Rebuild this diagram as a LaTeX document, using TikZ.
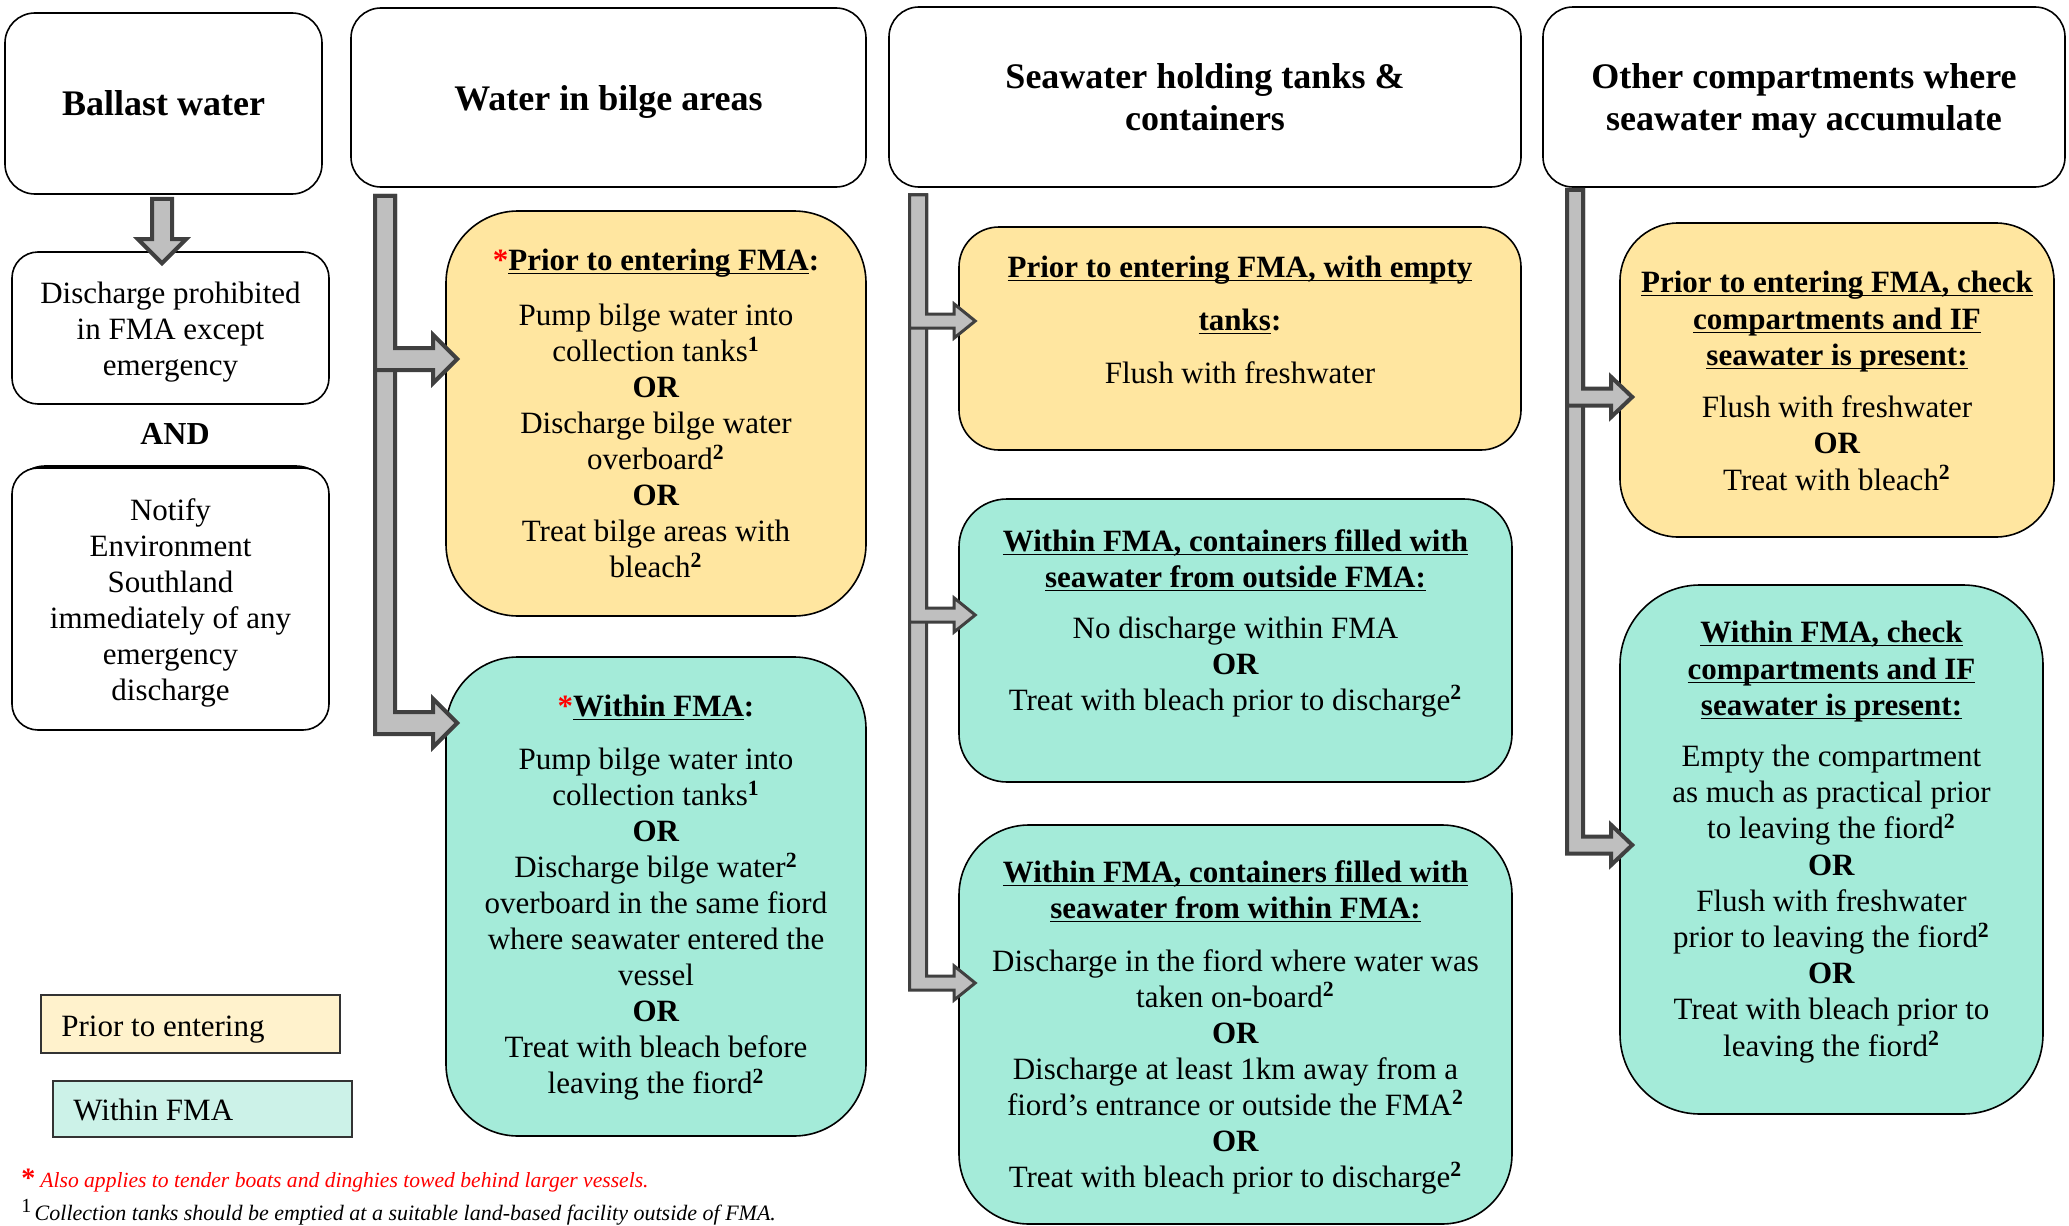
\documentclass[tikz,border=0pt]{standalone}
\usepackage{fontspec}
\setmainfont{Liberation Serif}
\usetikzlibrary{calc,fit}
\definecolor{ylw}{RGB}{255,230,160}
\definecolor{grn}{RGB}{164,235,217}
\definecolor{ylwL}{RGB}{255,242,204}
\definecolor{grnL}{RGB}{204,242,232}
\definecolor{arrfill}{RGB}{191,191,191}
\definecolor{arrdraw}{RGB}{64,64,64}
\newcommand\ulx[1]{\underline{\smash{#1}}\vphantom{#1}}
\newcommand\fnm[1]{\textsuperscript{\textbf{#1}}}
\newcommand\Larrow[7]{\filldraw[#7] let \p1=(#1), \p2=(#2) in
  (\x1-#3,\y1) -- (\x1+#3,\y1) -- (\x1+#3,\y2+#4) -- (\x2-#6,\y2+#4) -- (\x2-#6,\y2+#5) -- (\x2,\y2) -- (\x2-#6,\y2-#5) -- (\x2-#6,\y2-#4) -- (\x1-#3,\y2-#4) -- cycle;}
\newcommand\Darrow[6]{\filldraw[#6] let \p1=(#1), \p2=(#2) in
  (\x1-#3,\y1) -- (\x1+#3,\y1) -- (\x1+#3,\y2+#5) -- (\x1+#4,\y2+#5) -- (\x1,\y2) -- (\x1-#4,\y2+#5) -- (\x1-#3,\y2+#5) -- cycle;}
\tikzset{
  hdr/.style={draw=black, line width=0.8pt, rounded corners=15pt, fill=white, inner sep=0pt},
  hdrtxt/.style={inner sep=0pt, align=center, font=\fontsize{18}{21}\selectfont\bfseries},
  plainbox/.style={draw=black, line width=0.8pt, rounded corners=13pt, fill=white, inner sep=0pt},
  plaintxt/.style={inner sep=0pt, align=center, font=\fontsize{15.5}{18}\selectfont},
  ybox/.style={draw=black, line width=0.8pt, fill=ylw, inner sep=0pt},
  gbox/.style={draw=black, line width=0.8pt, fill=grn, inner sep=0pt},
  legbox/.style={draw=black!80, line width=0.6pt, inner sep=0pt},
  bodytxt/.style={inner sep=0pt, align=center, font=\fontsize{15.5}{18}\selectfont, anchor=north},
  legtxt/.style={inner sep=0pt, font=\fontsize{15.5}{18}\selectfont, anchor=base west},
  bigarrow/.style={fill=arrfill, draw=arrdraw, line width=2pt, line join=miter},
  thinarrow/.style={fill=arrfill, draw=arrdraw, line width=1.5pt, line join=miter},
}
\begin{document}
\begin{tikzpicture}[x=0.5pt, y=-0.5pt]
\fill[white] (0,0) rectangle (2069,1226);
\useasboundingbox (0,0) rectangle (2069,1226);

% headers
\node[hdr, fit={(5,13) (322,194)}] (hBal) {};
\node[hdr, fit={(351,8) (866,187)}] (hBil) {};
\node[hdr, fit={(889,7) (1521,187)}] (hSea) {};
\node[hdr, fit={(1543,7) (2065,187)}] (hOth) {};
\node[hdrtxt] (hBalT) at (hBal.center) {Ballast water};
\node[hdrtxt] (hBilT) at ([yshift=-2pt]hBil.center) {Water in bilge areas};
\node[hdrtxt] (hSeaT) at (hSea.center) {Seawater holding tanks \&\\containers};
\node[hdrtxt] (hOthT) at ([yshift=-2pt]hOth.center) {Other compartments where\\seawater may accumulate};

% ballast column
\node[plainbox, fit={(12,252) (329,404)}] (disc) {};
\node[plaintxt] (discT) at ([yshift=-2pt]disc.center) {Discharge prohibited\\in FMA except\\emergency};
\node[inner sep=0pt, font=\fontsize{16}{18}\selectfont\bfseries] (and) at (175,434) {AND};
\draw[line width=0.8pt, rounded corners=16pt] (13,466) rectangle (328,728);
\node[plainbox, fit={(12,468) (329,730)}] (notify) {};
\node[plaintxt] (notifyT) at ([yshift=-2pt]notify.center) {Notify\\Environment\\Southland\\immediately of any\\emergency\\discharge};

% boxes
\node[ybox, rounded corners=36pt, fit={(446,211) (866,616)}] (bPre) {};
\node[gbox, rounded corners=36pt, fit={(446,657) (866,1136)}] (bWit) {};
\node[ybox, rounded corners=20pt, fit={(959,227) (1521,450)}] (sPre) {};
\node[gbox, rounded corners=24pt, fit={(959,499) (1512,782)}] (sW1) {};
\node[gbox, rounded corners=35pt, fit={(959,825) (1512,1224)}] (sW2) {};
\node[ybox, rounded corners=29pt, fit={(1620,223) (2054,537)}] (oPre) {};
\node[gbox, rounded corners=40pt, fit={(1620,585) (2043,1114)}] (oWit) {};

% legend
\node[legbox, fill=ylwL, fit={(41,995) (340,1053)}] (legY) {};
\node[legbox, fill=grnL, fit={(53,1081) (352,1137)}] (legG) {};
\node[legtxt] (legYT) at (61,1036) {Prior to entering};
\node[legtxt] (legGT) at (73,1120) {Within FMA};

% connector coordinates
\coordinate (baTop) at ($(hBal.south -| 162,0)+(0,4)$);
\coordinate (baTip) at ($(disc.north -| 162,0)+(0,12)$);
\coordinate (bTop) at ($(hBil.south -| 385,0)+(0,8)$);
\coordinate (bTip1) at ($(bPre.west |- 0,359)+(12,0)$);
\coordinate (bTip2) at ($(bWit.west |- 0,723)+(12,0)$);
\coordinate (sTop) at ($(hSea.south -| 918,0)+(0,7)$);
\coordinate (sTip1) at ($(sPre.west |- 0,321)+(17,0)$);
\coordinate (sTip2) at ($(sW1.west |- 0,615)+(17,0)$);
\coordinate (sTip3) at ($(sW2.west |- 0,983)+(17,0)$);
\coordinate (oTop) at ($(hOth.south -| 1575,0)+(0,2)$);
\coordinate (oTip1) at ($(oPre.west |- 0,397)+(13,0)$);
\coordinate (oTip2) at ($(oWit.west |- 0,845)+(13,0)$);

% block arrows
\Darrow{baTop}{baTip}{5pt}{12pt}{12pt}{bigarrow}
\Larrow{bTop}{bTip2}{5pt}{5.5pt}{12pt}{12pt}{bigarrow}
\Larrow{bTop}{bTip1}{5pt}{5.5pt}{12pt}{12pt}{bigarrow}
\Larrow{sTop}{sTip3}{4.25pt}{3.5pt}{8.5pt}{10.5pt}{thinarrow}
\Larrow{sTop}{sTip2}{4.25pt}{3.5pt}{8.5pt}{10.5pt}{thinarrow}
\Larrow{sTop}{sTip1}{4.25pt}{3.5pt}{8.5pt}{10.5pt}{thinarrow}
\Larrow{oTop}{oTip2}{4pt}{4.25pt}{10pt}{10.5pt}{bigarrow}
\Larrow{oTop}{oTip1}{4pt}{4.25pt}{10pt}{10.5pt}{bigarrow}

% box texts
\node[bodytxt] (bPreT) at (656,249) {\textcolor{red}{\textbf{*}}\ulx{\textbf{Prior to entering FMA}}\textbf{:}\\[9.5pt]
Pump bilge water into\\collection tanks\fnm{1}\\\textbf{OR}\\Discharge bilge water\\overboard\fnm{2}\\\textbf{OR}\\Treat bilge areas with\\bleach\fnm{2}};

\node[bodytxt] (bWitT) at (656,695) {\textcolor{red}{\textbf{*}}\ulx{\textbf{Within FMA}}\textbf{:}\\[8.5pt]
Pump bilge water into\\collection tanks\fnm{1}\\\textbf{OR}\\Discharge bilge water\fnm{2}\\overboard in the same fiord\\where seawater entered the\\vessel\\\textbf{OR}\\Treat with bleach before\\leaving the fiord\fnm{2}};

\node[bodytxt] (sPreT) at (1240,256) {\ulx{\textbf{Prior to entering FMA, with empty}}\\[8.5pt]\ulx{\textbf{tanks}}\textbf{:}\\[8.5pt]Flush with freshwater};

\node[bodytxt] (sW1T) at (1235.5,529) {\ulx{\textbf{Within FMA, containers filled with}}\\\ulx{\textbf{seawater from outside FMA:}}\\[7.5pt]
No discharge within FMA\\\textbf{OR}\\Treat with bleach prior to discharge\fnm{2}};

\node[bodytxt] (sW2T) at (1235.5,860) {\ulx{\textbf{Within FMA, containers filled with}}\\\ulx{\textbf{seawater from within FMA:}}\\[8.5pt]
Discharge in the fiord where water was\\taken on-board\fnm{2}\\\textbf{OR}\\Discharge at least 1km away from a\\fiord’s entrance or outside the FMA\fnm{2}\\\textbf{OR}\\Treat with bleach prior to discharge\fnm{2}};

\node[bodytxt, font=\fontsize{15.5}{18.25}\selectfont] (oPreT) at (1837,271) {\ulx{\textbf{Prior to entering FMA, check}}\\\ulx{\textbf{compartments and IF}}\\\ulx{\textbf{seawater is present:}}\\[7.5pt]
Flush with freshwater\\\textbf{OR}\\Treat with bleach\fnm{2}};

\node[bodytxt, font=\fontsize{15.5}{18.1}\selectfont] (oWitT) at (1831.5,621) {\ulx{\textbf{Within FMA, check}}\\\ulx{\textbf{compartments and IF}}\\\ulx{\textbf{seawater is present:}}\\[7.5pt]
Empty the compartment\\as much as practical prior\\to leaving the fiord\fnm{2}\\\textbf{OR}\\Flush with freshwater\\prior to leaving the fiord\fnm{2}\\\textbf{OR}\\Treat with bleach prior to\\leaving the fiord\fnm{2}};

% footnotes
\node[inner sep=0pt, anchor=base west, text=red] (fn1) at (21,1187) {{\fontsize{14}{14}\selectfont\textbf{*}}\ {\fontsize{10.8}{13}\selectfont\itshape Also applies to tender boats and dinghies towed behind larger vessels.}};
\node[inner sep=0pt, anchor=base west] (fn2) at (21,1220) {\raisebox{4pt}{\fontsize{10}{10}\selectfont 1}\,{\fontsize{11}{13}\selectfont\itshape Collection tanks should be emptied at a suitable land-based facility outside of FMA.}};
\end{tikzpicture}
\end{document}
